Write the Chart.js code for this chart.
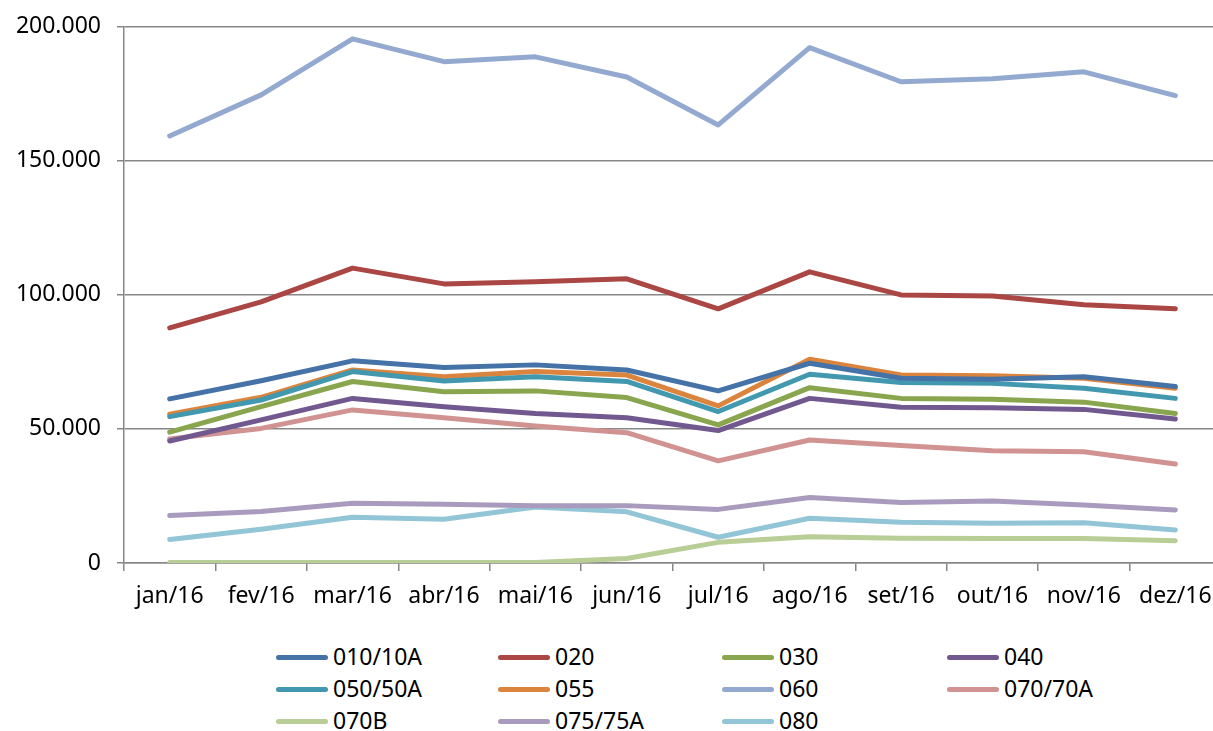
<!DOCTYPE html>
<html>
<head>
<meta charset="utf-8">
<script src="https://cdn.jsdelivr.net/npm/chart.js@4/dist/chart.umd.min.js"></script>
<style>
    html, body { margin: 0; padding: 0; background: #fff; overflow: hidden; }
    #wrap { position: relative; width: 1213px; height: 731px; overflow: hidden; }
    #box { position: absolute; left: 0; top: -3px; width: 1232px; height: 628px; }
    #legend { position: absolute; left: 0; top: 0; font-family: "Noto Sans", sans-serif; font-size: 23px; color: #000; }
    .item { position: absolute; height: 30px; line-height: 30px; white-space: nowrap; }
    .swatch { display: inline-block; width: 52px; height: 5px; border-radius: 3px; vertical-align: middle; margin-right: 5px; position: relative; top: -1px; }
</style>
</head>
<body>
<div id="wrap">
    <div id="box"><canvas id="chart"></canvas></div>
    <div id="legend"></div>
</div>
<script>
const months = ['jan/16', 'fev/16', 'mar/16', 'abr/16', 'mai/16', 'jun/16', 'jul/16', 'ago/16', 'set/16', 'out/16', 'nov/16', 'dez/16'];
const yTicks = [0, 50000, 100000, 150000, 200000];

const s010 = [61200, 68000, 75400, 72900, 73900, 72000, 64200, 74500, 68900, 68500, 69500, 65800];
const s020 = [87700, 97400, 110000, 104100, 104900, 106000, 94800, 108600, 100000, 99600, 96300, 94800];
const s030 = [48800, 58300, 67700, 63900, 64200, 61700, 51500, 65400, 61400, 61100, 60000, 55800];
const s040 = [45500, 53400, 61400, 58300, 55800, 54200, 49400, 61400, 58100, 57900, 57300, 53700];
const s050 = [54600, 60800, 71400, 67900, 69500, 67700, 56500, 70400, 67300, 67000, 65200, 61400];
const s055 = [55500, 61800, 72000, 69500, 71400, 70100, 58600, 76000, 70100, 69800, 68900, 65200];
const s060 = [159300, 174600, 195500, 187000, 188800, 181300, 163400, 192200, 179500, 180600, 183200, 174300];
const s070 = [46300, 50200, 57100, 54200, 51100, 48600, 38100, 45900, 43800, 41900, 41500, 36900];
const s070B = [200, 200, 200, 200, 200, 1700, 7700, 9800, 9200, 9100, 9100, 8300];
const s075 = [17700, 19200, 22300, 21900, 21400, 21400, 20000, 24400, 22600, 23100, 21600, 19800];
const s080 = [8800, 12600, 17100, 16300, 20900, 19100, 9600, 16700, 15200, 14800, 15000, 12300];

const seriesNames = ['010/10A', '020', '030', '040', '050/50A', '055', '060', '070/70A', '070B', '075/75A', '080'];
const seriesData = [s010, s020, s030, s040, s050, s055, s060, s070, s070B, s075, s080];
const seriesColors = ['#4572A7', '#AA4643', '#89A54E', '#71588F', '#4198AF', '#DB843D', '#93A9CF', '#D19392', '#B9CD96', '#A99BBD', '#92C5D6'];

function formatThousands(v) {
    return String(v).replace(/\B(?=(\d{3})+(?!\d))/g, '.');
}

const gridColor = '#878787';
const font = { family: '"Noto Sans", sans-serif', size: 23 };

window.onload = function() {
    const ctx = document.getElementById('chart').getContext('2d');
    new Chart(ctx, {
        type: 'line',
        data: {
            labels: months,
            datasets: seriesNames.map((name, i) => ({
                label: name,
                data: seriesData[i],
                borderColor: seriesColors[i],
                backgroundColor: seriesColors[i],
                borderWidth: 5,
                borderCapStyle: 'round',
                borderJoinStyle: 'round',
                pointRadius: 0,
                tension: 0,
                fill: false
            }))
        },
        options: {
            responsive: true,
            maintainAspectRatio: false,
            animation: false,
            layout: { padding: { top: 23, right: 11, left: 0, bottom: 0 } },
            plugins: { legend: { display: false }, tooltip: { enabled: false } },
            scales: {
                x: {
                    offset: true,
                    grid: { offset: true, drawOnChartArea: false, drawTicks: true, tickLength: 8, color: gridColor, lineWidth: 1.5 },
                    border: { color: gridColor, width: 1.5 },
                    ticks: { color: '#000', font: font, maxRotation: 0, autoSkip: false, padding: 12 },
                    afterFit: function(scale) { scale.height = 62; }
                },
                y: {
                    min: 0,
                    max: 200000,
                    afterBuildTicks: function(scale) { scale.ticks = yTicks.map(v => ({ value: v })); },
                    grid: { color: gridColor, lineWidth: 1.5, drawTicks: true, tickLength: 7 },
                    border: { color: gridColor, width: 1.5 },
                    ticks: { color: '#000', font: font, padding: 16, callback: v => formatThousands(v) },
                    afterFit: function(scale) { scale.width = 124; }
                }
            }
        }
    });

    const legend = document.getElementById('legend');
    const colX = [276, 498, 722, 947];
    const rowY = [641, 673, 705];
    seriesNames.forEach((name, i) => {
        const item = document.createElement('div');
        item.className = 'item';
        item.style.left = colX[i % 4] + 'px';
        item.style.top = rowY[Math.floor(i / 4)] + 'px';
        item.innerHTML = '<span class="swatch" style="background:' + seriesColors[i] + '"></span>' + name;
        legend.appendChild(item);
    });
};
</script>
</body>
</html>
